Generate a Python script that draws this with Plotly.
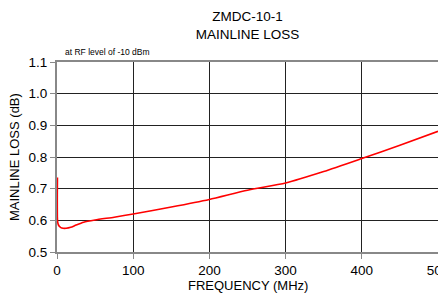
import plotly.graph_objects as go

freq = [0.6, 0.5, 0.4, 0.4, 0.5, 0.8, 1.5, 3, 5, 8, 12, 18, 25, 35, 50, 75, 100, 150, 200, 250, 300, 350, 400, 450, 500]
loss = [0.735, 0.71, 0.68, 0.64, 0.61, 0.597, 0.588, 0.581, 0.577, 0.575, 0.575, 0.578, 0.585, 0.594, 0.601, 0.61, 0.62, 0.642, 0.666, 0.695, 0.718, 0.754, 0.795, 0.837, 0.881]

title_lines = ["ZMDC-10-1", "MAINLINE LOSS"]
note = "at RF level of -10 dBm"
x_title = "FREQUENCY (MHz)"
y_title = "MAINLINE LOSS (dB)"

# the page body has an 8px margin, so the figure is shifted by 8px
OFF = 8
W, H = 446 - OFF, 293 - OFF
L, R, T, B = 57 - OFF, 8, 62 - OFF, 41

fig = go.Figure()
fig.add_trace(go.Scatter(x=freq, y=loss, mode="lines",
                         line=dict(color="#ff0000", width=1.6, shape="spline", smoothing=0.6),
                         showlegend=False, hoverinfo="skip"))

fig.update_layout(
    width=W, height=H,
    margin=dict(l=L, r=R, t=T, b=B, autoexpand=False),
    paper_bgcolor="white", plot_bgcolor="white",
    font=dict(family="Liberation Sans, Arial, sans-serif", color="black"),
    title=dict(text="<br>".join(title_lines), x=(L + W - R) / 2 / W, xanchor="center",
               y=1 - 13 / H, yanchor="top", font=dict(size=13.5)),
    annotations=[
        dict(text=note, xref="paper", yref="paper", x=0.015, y=1.0,
             xanchor="left", yanchor="bottom", showarrow=False, yshift=3,
             font=dict(size=8.5)),
        dict(text=x_title, xref="paper", yref="paper", x=0.5, y=0,
             xanchor="center", yanchor="middle", showarrow=False, yshift=-33,
             font=dict(size=13)),
        dict(text=y_title, xref="paper", yref="paper", x=0, y=0.5, textangle=-90,
             xanchor="center", yanchor="middle", showarrow=False, xshift=-43,
             font=dict(size=13)),
    ],
)
fig.update_xaxes(range=[0, 500], dtick=100, showgrid=True, gridcolor="#222222", gridwidth=1,
                 showline=True, linecolor="#888888", linewidth=2, mirror=True,
                 ticks="outside", ticklen=5, tickcolor="#888888", zeroline=False,
                 tickfont=dict(size=13.5), automargin=False, ticklabeloverflow="allow")
fig.update_yaxes(range=[0.5, 1.1], dtick=0.1, tickformat=".1f", showgrid=True, gridcolor="#222222",
                 gridwidth=1, showline=True, linecolor="#888888", linewidth=2, mirror=True,
                 ticks="outside", ticklen=5, tickcolor="#888888", zeroline=False,
                 tickfont=dict(size=13.5), automargin=False)

fig.write_html("out.html")
